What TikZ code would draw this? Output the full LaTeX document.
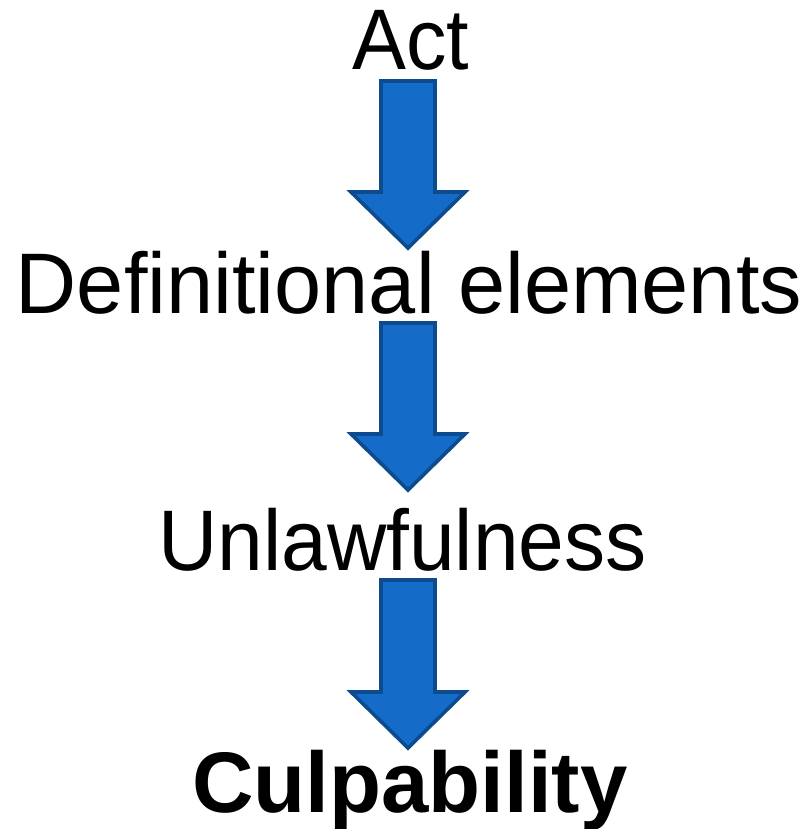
\documentclass[tikz,border=0pt]{standalone}
\usepackage{fontspec}
\setmainfont{Liberation Sans}
\usetikzlibrary{calc}
\definecolor{arrowfill}{RGB}{20,108,200}
\definecolor{arrowedge}{RGB}{12,76,142}
\tikzset{
  label text/.style={inner sep=0pt, anchor=base, font=\fontsize{86}{100}\selectfont, text=black},
  blockarrow/.style={fill=arrowfill, draw=arrowedge, line width=3.6pt, line join=miter},
}
\begin{document}
\begin{tikzpicture}[x=1pt,y=-1pt]
\useasboundingbox[fill=white] (0,0) rectangle (809,829);
\node[label text, xscale=0.94] (act) at (411,70) {Act};
\node[label text, xscale=0.985] (def) at (409,313) {Definitional elements};
\node[label text, xscale=0.955] (unl) at (402.5,570) {Unlawfulness};
\node[label text, xscale=0.99, font=\fontsize{86}{100}\selectfont\bfseries] (cul) at (410,812) {Culpability};
\coordinate (t1) at (408,81);  \coordinate (p1) at (408,248);
\coordinate (t2) at (408,323); \coordinate (p2) at (408,490);
\coordinate (t3) at (408,580); \coordinate (p3) at (408,748);
\foreach \t/\p in {t1/p1,t2/p2,t3/p3}{
  \draw[blockarrow] ($(\t)+(-27,0)$) -- ($(\t)+(27,0)$) -- ($(\p)+(27,-56)$) -- ($(\p)+(57,-56)$)
     -- (\p) -- ($(\p)+(-57,-56)$) -- ($(\p)+(-27,-56)$) -- cycle;
}
\end{tikzpicture}
\end{document}
